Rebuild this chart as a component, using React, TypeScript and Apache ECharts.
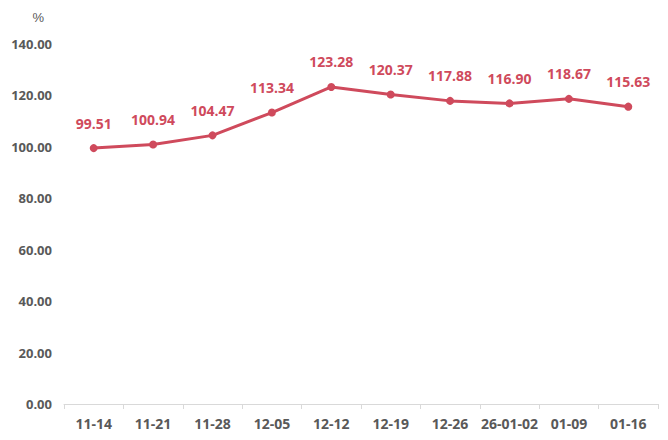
import React, { useEffect, useRef } from "react";
import * as echarts from "echarts";

const categories = ["11-14", "11-21", "11-28", "12-05", "12-12", "12-19", "12-26", "26-01-02", "01-09", "01-16"];
const values = [99.51, 100.94, 104.47, 113.34, 123.28, 120.37, 117.88, 116.9, 118.67, 115.63];

export default function App() {
  const ref = useRef<HTMLDivElement>(null);
  useEffect(() => {
    if (!ref.current) return;
    const chart = echarts.init(ref.current, undefined, { renderer: "svg" });
    const color = "#cf4a5c";
    chart.setOption({
      animation: false,
      backgroundColor: "#ffffff",
      grid: { left: 64, right: 10, top: 44, bottom: 36 },
      xAxis: {
        type: "category",
        data: categories,
        boundaryGap: true,
        axisLine: { show: true, lineStyle: { color: "#d9d9d9", width: 1 } },
        axisTick: { show: true, lineStyle: { color: "#d9d9d9" }, length: 5 },
        axisLabel: {
          color: "#595959",
          fontWeight: "bold",
          fontSize: 14,
          margin: 12,
          fontFamily: "Open Sans, sans-serif",
          interval: 0,
        },
      },
      yAxis: {
        type: "value",
        min: 0,
        max: 140,
        interval: 20,
        name: "%",
        nameLocation: "end",
        nameGap: 20,
        nameTextStyle: { color: "#595959", fontSize: 13, align: "right", padding: [0, 20, 0, 0] },
        axisLine: { show: false },
        axisTick: { show: false },
        splitLine: { show: false },
        axisLabel: {
          color: "#595959",
          fontWeight: "bold",
          fontSize: 13,
          margin: 12,
          fontFamily: "Open Sans, sans-serif",
          formatter: (v: number) => v.toFixed(2),
        },
      },
      series: [
        {
          type: "line",
          data: values,
          symbol: "circle",
          symbolSize: 8,
          lineStyle: { color, width: 3 },
          itemStyle: { color },
          label: {
            show: true,
            position: "top",
            distance: 14,
            color,
            fontWeight: "bold",
            fontSize: 14,
            fontFamily: "Open Sans, sans-serif",
            formatter: (p: any) => p.value.toFixed(2),
          },
        },
      ],
    });
    return () => chart.dispose();
  }, []);
  return <div ref={ref} style={{ width: 668, height: 440, position: "absolute", left: 0, top: 0 }} />;
}
